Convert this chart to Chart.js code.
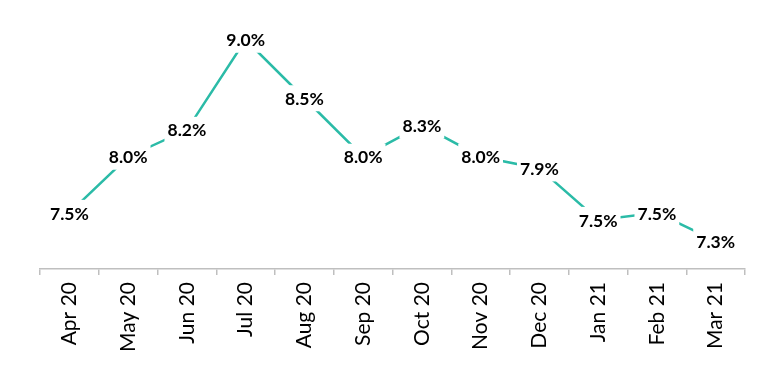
<!DOCTYPE html>
<html>
<head>
<meta charset="utf-8">
<script src="https://cdn.jsdelivr.net/npm/chart.js@4"></script>
<style>
  html, body { margin: 0; padding: 0; background: #fff; }
  #wrap { width: 770px; height: 385px; }
</style>
</head>
<body>
<div id="wrap"><canvas id="chart"></canvas></div>
<script>
const months = ["Apr 20", "May 20", "Jun 20", "Jul 20", "Aug 20", "Sep 20",
                "Oct 20", "Nov 20", "Dec 20", "Jan 21", "Feb 21", "Mar 21"];
const rates = [7.52, 8.0, 8.23, 9.0, 8.5, 8.0, 8.27, 8.0, 7.9, 7.46, 7.52, 7.28];

const lineColor = "#2bbba7";

// draws value labels on white boxes over the points (line gets cut like in excel)
const pointLabels = {
    id: "pointLabels",
    afterDatasetsDraw(chart) {
        const ctx = chart.ctx;
        const meta = chart.getDatasetMeta(0);
        ctx.save();
        ctx.font = "bold 17.5px Lato";
        ctx.textAlign = "center";
        ctx.textBaseline = "middle";
        meta.data.forEach(function (pt, i) {
            const txt = rates[i].toFixed(1) + "%";
            const w = ctx.measureText(txt).width;
            ctx.fillStyle = "#fff";
            ctx.fillRect(pt.x - w / 2 - 3, pt.y - 13, w + 6, 26);
            ctx.fillStyle = "#000";
            ctx.fillText(txt, pt.x, pt.y + 1);
        });
        ctx.restore();
    }
};

const config = {
    type: "line",
    data: {
        labels: months,
        datasets: [{
            data: rates,
            borderColor: lineColor,
            borderWidth: 2.5,
            pointRadius: 0,
            tension: 0,
            fill: false
        }]
    },
    options: {
        responsive: true,
        maintainAspectRatio: false,
        animation: false,
        layout: { padding: { left: 40, right: 25, top: 0, bottom: 0 } },
        plugins: {
            legend: { display: false },
            tooltip: { enabled: false }
        },
        scales: {
            y: {
                display: false,
                min: 7.04,
                max: 9.34
            },
            x: {
                offset: true,
                afterFit: function (scale) { scale.height = 116; },
                grid: {
                    offset: true,
                    drawOnChartArea: false,
                    tickLength: 6,
                    color: "#bfbfbf",
                    lineWidth: 1.5
                },
                border: { color: "#bfbfbf", width: 1.5 },
                ticks: {
                    maxRotation: 90,
                    minRotation: 90,
                    padding: 7,
                    color: "#000",
                    font: { family: "Lato", size: 21 }
                }
            }
        }
    },
    plugins: [pointLabels]
};

new Chart(document.getElementById("chart"), config);
</script>
</body>
</html>
